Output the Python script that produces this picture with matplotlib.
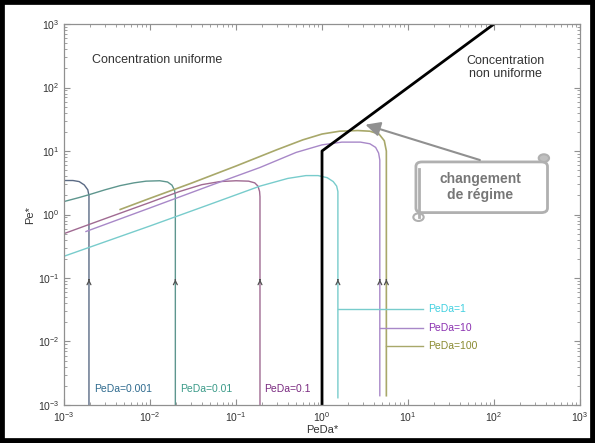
import matplotlib
matplotlib.use("Agg")
import matplotlib.pyplot as plt
from matplotlib.patches import Rectangle, FancyBboxPatch, Circle

plt.rcParams['font.family'] = ['Liberation Sans', 'DejaVu Sans']
plt.rcParams['mathtext.fontset'] = 'custom'
plt.rcParams['mathtext.rm'] = 'Liberation Sans'

# courbes Pe* = f(PeDa*) pour chaque PeDa
peda_0001_x = [0.001, 0.00127, 0.0015, 0.00172, 0.00189, 0.00195, 0.00195]
peda_0001_y = [3.43, 3.43, 3.30, 2.92, 2.45, 1.99, 0.001]

peda_001_x = [0.001, 0.0015, 0.002, 0.003, 0.0045, 0.0065, 0.009, 0.013,
              0.016, 0.018, 0.0193, 0.0197, 0.0197]
peda_001_y = [1.6, 1.85, 2.07, 2.45, 2.85, 3.15, 3.35, 3.4,
              3.25, 2.9, 2.4, 1.95, 0.001]

peda_01_x = [0.001, 0.003, 0.01, 0.022, 0.04, 0.065, 0.1, 0.14, 0.165, 0.18, 0.188, 0.19, 0.19]
peda_01_y = [0.5, 0.86, 1.55, 2.3, 2.95, 3.3, 3.4, 3.35, 3.15, 2.8, 2.3, 1.9, 0.001]

peda_1_x = [0.001, 0.01, 0.05, 0.19, 0.4, 0.65, 0.9, 1.15, 1.35, 1.48, 1.53, 1.53]
peda_1_y = [0.22, 0.66, 1.45, 2.8, 3.7, 4.1, 4.1, 3.8, 3.3, 2.8, 2.3, 0.0013]

peda_10_x = [0.0018, 0.01, 0.05, 0.19, 0.5, 1.0, 1.7, 2.8, 3.6, 4.2, 4.55, 4.7, 4.7]
peda_10_y = [0.54, 1.27, 2.85, 5.5, 9.5, 12.5, 13.8, 13.8, 13.0, 11.4, 9.3, 7.2, 0.0014]

peda_100_x = [0.0045, 0.01, 0.03, 0.1, 0.3, 0.6, 1.0, 1.6, 2.6, 3.6, 4.6, 5.3, 5.6, 5.6]
peda_100_y = [1.2, 1.8, 3.1, 5.8, 10.5, 15.0, 18.5, 20.5, 21.0, 20.5, 18.5, 14.5, 10.0, 0.0014]

# frontiere entre les deux regimes
frontiere_x = [1, 1, 100]
frontiere_y = [0.001, 10, 1000]

# position des fleches sur les branches verticales
fleches_x = [0.00195, 0.0197, 0.19, 1.53, 4.7, 5.6]

fig = plt.figure(figsize=(5.95, 4.43), dpi=100)
ax = fig.add_axes([0.1076, 0.0858, 0.8672, 0.86])

ax.plot(peda_0001_x, peda_0001_y, color='#5a6a84', lw=1.0)
ax.plot(peda_001_x, peda_001_y, color='#5e968e', lw=1.0)
ax.plot(peda_01_x, peda_01_y, color='#a06a92', lw=1.0)
ax.plot(peda_1_x, peda_1_y, color='#78cccc', lw=1.0)
ax.plot(peda_10_x, peda_10_y, color='#a888c8', lw=1.0)
ax.plot(peda_100_x, peda_100_y, color='#a8a86a', lw=1.2)
ax.plot(frontiere_x, frontiere_y, color='black', lw=2)

for xf in fleches_x:
    ax.annotate('', xy=(xf, 0.105), xytext=(xf, 0.085),
                arrowprops=dict(arrowstyle='->', color='#505050', lw=0.9,
                                mutation_scale=7))

ax.set_xscale('log')
ax.set_yscale('log')
ax.set_xlim(1e-3, 1e3)
ax.set_ylim(1e-3, 1e3)

for s in ax.spines.values():
    s.set_color('#909090')
    s.set_linewidth(0.9)
ax.tick_params(which='both', direction='in', top=True, right=True,
               colors='#909090', labelcolor='#333333', labelsize=7.5)
ax.tick_params(which='major', length=4)
ax.tick_params(which='minor', length=2)
ax.set_xticks([1e-3, 1e-2, 1e-1, 1, 10, 100, 1000])
ax.set_yticks([1e-3, 1e-2, 1e-1, 1, 10, 100, 1000])

ax.set_xlabel('PeDa*', fontsize=8, color='#333333', labelpad=1)
ax.set_ylabel('Pe*', fontsize=8, color='#333333', labelpad=2)

# etiquettes des courbes
ax.text(0.00223, 0.0018, 'PeDa=0.001', color='#2e6a8e', fontsize=7.5, va='center')
ax.text(0.0223, 0.0018, 'PeDa=0.01', color='#3a9a88', fontsize=7.5, va='center')
ax.text(0.21, 0.0018, 'PeDa=0.1', color='#7a2a80', fontsize=7.5, va='center')

ax.plot([1.53, 14.9], [0.033, 0.033], color='#78cccc', lw=1.0)
ax.plot([4.7, 14.9], [0.0166, 0.0166], color='#a888c8', lw=1.0)
ax.plot([5.6, 14.9], [0.0085, 0.0085], color='#a8a86a', lw=1.0)
ax.text(17, 0.033, 'PeDa=1', color='#40d0e0', fontsize=7.5, va='center')
ax.text(17, 0.0166, 'PeDa=10', color='#8a30b0', fontsize=7.5, va='center')
ax.text(17, 0.0085, 'PeDa=100', color='#8a8a30', fontsize=7.5, va='center')

ax.text(0.055, 0.905, 'Concentration uniforme', transform=ax.transAxes,
        fontsize=9, color='#333333', va='center')
ax.text(0.855, 0.885, 'Concentration\nnon uniforme', transform=ax.transAxes,
        fontsize=9, color='#333333', va='center', ha='center', linespacing=1.1)

# encadre "changement de regime"
gris = '#b0b0b0'
ax.add_patch(FancyBboxPatch((0.682, 0.505), 0.255, 0.133,
                            boxstyle='round,pad=0,rounding_size=0.012',
                            transform=ax.transAxes, fc='white', ec=gris, lw=2))
ax.add_patch(Circle((0.930, 0.648), 0.010, transform=ax.transAxes,
                    fc='#c0c0c0', ec=gris, lw=1.5))
ax.add_patch(Circle((0.687, 0.493), 0.010, transform=ax.transAxes,
                    fc='white', ec=gris, lw=1.5))
ax.plot([0.687, 0.687], [0.493, 0.62], color=gris, lw=2, transform=ax.transAxes)
ax.text(0.807, 0.572, 'changement\nde régime', transform=ax.transAxes,
        fontsize=10, fontweight='bold', color='#777777', ha='center',
        va='center', linespacing=1.25)
ax.annotate('', xy=(3.2, 26), xycoords='data',
            xytext=(0.806, 0.643), textcoords='axes fraction',
            arrowprops=dict(arrowstyle='-|>', color='#909090', lw=1.5,
                            mutation_scale=22, shrinkA=0, shrinkB=0))

fig.patches.append(Rectangle((0, 0), 1, 1, transform=fig.transFigure,
                             fill=False, ec='black', lw=7))

fig.savefig('out.png', dpi=100)
